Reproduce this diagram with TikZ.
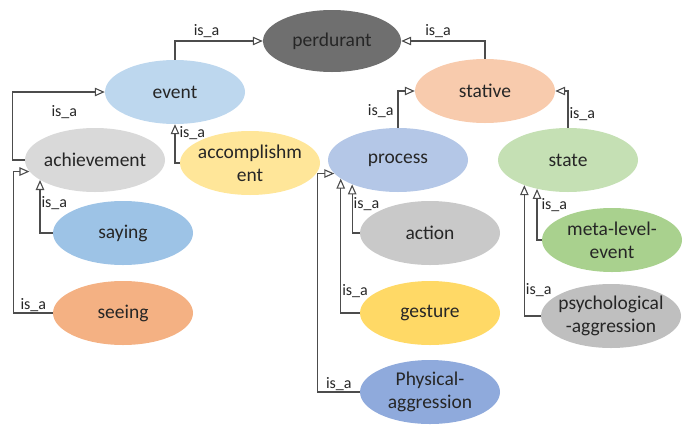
\documentclass[tikz,border=0pt]{standalone}
\usepackage{fontspec}
\setmainfont{Carlito}
\usetikzlibrary{shapes.geometric,arrows.meta}

\definecolor{cperd}{HTML}{6F6F6F}
\definecolor{cevent}{HTML}{BDD7EE}
\definecolor{cstat}{HTML}{F8CBAD}
\definecolor{cachi}{HTML}{D9D9D9}
\definecolor{caccom}{HTML}{FFE699}
\definecolor{cproc}{HTML}{B4C7E7}
\definecolor{cstate}{HTML}{C5E0B4}
\definecolor{csay}{HTML}{9DC3E6}
\definecolor{csee}{HTML}{F4B183}
\definecolor{cact}{HTML}{C9C9C9}
\definecolor{cgest}{HTML}{FFD966}
\definecolor{cphys}{HTML}{8FAADC}
\definecolor{cmeta}{HTML}{A9D18E}
\definecolor{cpsy}{HTML}{BFBFBF}

\tikzset{
  concept/.style={ellipse,minimum width=140pt,minimum height=64pt,
    inner xsep=-20pt,inner ysep=0pt,align=center,text=black!85,
    font=\fontsize{19.5}{23}\selectfont},
  isa/.style={font=\fontsize{16}{18}\selectfont,inner sep=1pt,text=black!85},
  link/.style={draw=black!70,line width=1.1pt,
    -{Triangle[open,length=10pt,width=8.5pt]}}
}

\begin{document}
\begin{tikzpicture}[x=1pt,y=1pt]
\useasboundingbox (0,0) rectangle (690,-426);

% the concepts
\node[concept,fill=cperd,minimum width=138pt,minimum height=62pt] (perdurant) at (332,-41) {perdurant};
\node[concept,fill=cevent] (event) at (175,-92) {event};
\node[concept,fill=cstat] (stative) at (485,-91) {stative};
\node[concept,fill=cachi] (achievement) at (95,-160) {achievement};
\node[concept,fill=caccom] (accomplishment) at (250,-163) {accomplishm\\ent};
\node[concept,fill=cproc] (process) at (398,-160) {process};
\node[concept,fill=cstate] (state) at (568,-160) {state};
\node[concept,fill=csay] (saying) at (123,-233) {saying};
\node[concept,fill=csee] (seeing) at (123,-313) {seeing};
\node[concept,fill=cact] (action) at (430,-233) {action};
\node[concept,fill=cgest] (gesture) at (430,-313) {gesture};
\node[concept,fill=cphys] (physical) at (430,-392) {Physical-\\aggression};
\node[concept,fill=cmeta] (metalevel) at (612,-240) {meta-level-\\event};
\node[concept,fill=cpsy] (psycho) at (611,-316) {psychological\\-aggression};

% is_a links
\draw[link] (event.north) |- node[isa,pos=0.68,above=2pt] (l1) {is\_a} (perdurant.west);
\draw[link] (stative.north) |- node[isa,pos=0.78,above=2pt] (l2) {is\_a} (perdurant.east);
\draw[link] (process.north) |- node[isa,pos=0.23,left=3pt] (l3) {is\_a} (stative.west);
\draw[link] (state.north) |- node[isa,pos=0.18,right=0pt] (l4) {is\_a} (stative.east);
\draw[link] (achievement.west) -- ++(-12,0) |- node[isa,pos=0.78,below=12pt] (l5) {is\_a} (event.west);
\draw[link] (accomplishment.west) -| node[isa,pos=0.89,right=3pt] (l6) {is\_a} (event.south);
\draw[link] (saying.west) -| node[isa,pos=0.78,right=0pt] (l7) {is\_a} (achievement.200);
\draw[link] (seeing.west) -- node[isa,above] (l8) {is\_a} ++(-39,0) |- (achievement.190);
\draw[link] (action.west) -| node[isa,pos=0.8,right=0pt] (l9) {is\_a} (process.208);
\draw[link] (gesture.west) -| node[isa,pos=0.58,right=0pt] (l10) {is\_a} (process.198);
\draw[link] (physical.west) -- node[isa,above] (l11) {is\_a} ++(-42,0) |- (process.192);
\draw[link] (metalevel.west) -| node[isa,pos=0.84,right=3pt] (l12) {is\_a} (state.223);
\draw[link] (psycho.west) -| node[isa,pos=0.6,right=0pt] (l13) {is\_a} (state.210);

\end{tikzpicture}
\end{document}
